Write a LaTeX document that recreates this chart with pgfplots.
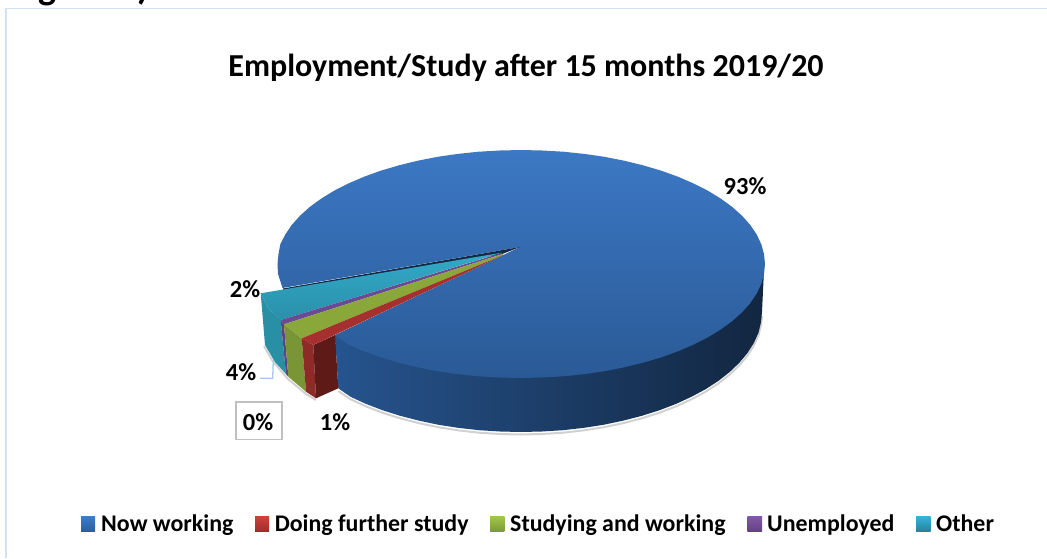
\documentclass[border=0pt]{standalone}
\usepackage{pgfplots}
\pgfplotsset{compat=1.18}
\usepackage{fontspec}
\setmainfont{Carlito}
\definecolor{frameblue}{HTML}{D3E2F3}
\begin{document}
\begin{tikzpicture}
\useasboundingbox (0,0) rectangle (1047pt,558pt);
\clip (0,0) rectangle (1047pt,558pt);
\begin{axis}[at={(0,0)},anchor=south west,scale only axis,width=1047pt,height=558pt,
  xmin=0,xmax=1047,ymin=0,ymax=558,y dir=reverse,hide axis,clip=false]
% frame
\addplot[frameblue,line width=1.6pt] coordinates {(6,558) (6,8.5) (1047,8.5)};
% shadow
\addplot[black!30,line width=2pt,opacity=.6] coordinates {(762,316) (761,325) (758.4,335.5) (753.8,345.6) (747.5,355.5) (739.3,365.3) (729.7,374.5) (718.4,383.4) (705.6,391.7) (691.4,399.3) (676,406.4) (659.3,412.8) (641.5,418.4) (622.9,423.2) (603.4,427.3) (583.4,430.4) (562.9,432.7) (542,434) (521,434.5) (500,434) (479.1,432.7) (458.6,430.4) (438.6,427.3) (419.1,423.2) (400.5,418.4) (382.7,412.8) (366,406.4) (350.6,399.3) (338.3,391)};
\addplot[black!30,line width=2pt,opacity=.6] coordinates {(264,346) (272,360) (282,372) (288,379) (306,394) (316,400)};
% blue side wall
\addplot[draw=none,left color={rgb,255:red,38;green,84;blue,142},middle color={rgb,255:red,26;green,52;blue,88},right color={rgb,255:red,18;green,38;blue,64}] coordinates {(335,335) (764,270) (762,312) (761,322.4) (758.4,332.9) (753.8,343.1) (747.5,353) (739.3,362.8) (729.7,372) (718.4,380.9) (705.6,389.2) (691.4,396.8) (676,403.9) (659.3,410.3) (641.5,415.9) (622.9,420.7) (603.4,424.8) (583.4,427.9) (562.9,430.2) (542,431.5) (521,432) (500,431.5) (479.1,430.2) (458.6,427.9) (438.6,424.8) (419.1,420.7) (400.5,415.9) (382.7,410.3) (366,403.9) (350.6,396.8) (338.3,388.3)} --cycle;
% blue top face
\addplot[draw=none,top color={rgb,255:red,60;green,120;blue,196},bottom color={rgb,255:red,42;green,90;blue,150}] coordinates {(520,247) (282.5,288) (278,273.9) (277.5,264) (278.5,254.1) (280.3,244.2) (285.3,234.5) (291.7,225) (299.9,215.8) (309.7,207) (321.2,198.6) (334.1,190.7) (348.5,183.4) (364.1,176.7) (381,170.6) (399,165.3) (417.8,160.7) (437.6,156.8) (457.8,153.9) (478.6,151.7) (499.8,150.5) (521,150) (542.2,150.5) (563.4,151.7) (584.2,153.9) (604.4,156.8) (624.2,160.7) (643,165.3) (661,170.6) (677.9,176.7) (693.5,183.4) (707.9,190.7) (720.8,198.6) (732.3,207) (742.1,215.8) (750.3,225) (756.7,234.5) (761.3,244.2) (764,254.1) (765,264) (764,273.9) (761.3,283.8) (756.7,293.5) (750.3,303) (742.1,312.2) (732.3,321) (720.8,329.4) (707.9,337.3) (693.5,344.6) (677.9,351.3) (661,357.4) (643,362.7) (624.2,367.3) (604.4,371.2) (584.2,374.1) (563.4,376.3) (542.2,377.5) (521,378) (499.8,377.5) (478.6,376.3) (457.8,374.1) (437.6,371.2) (417.8,367.3) (399,362.7) (381,357.4) (364.1,351.3) (348.5,344.6) (335,335)} --cycle;
% dark sliver of the cut
\addplot[draw=none,fill={rgb,255:red,18;green,42;blue,72}] coordinates {(520,247) (283,288.5) (283,290) (501,254.5)} --cycle;
% walls
\addplot[draw=none,fill={rgb,255:red,40;green,143;blue,165}] coordinates {(260.7,293.3) (268,308) (280.7,320) (286,374) (275,362) (265,345)} --cycle;
\addplot[draw=none,fill={rgb,255:red,92;green,66;blue,135}] coordinates {(280.7,320) (284,324.3) (288.3,376.7) (286,374)} --cycle;
\addplot[draw=none,fill={rgb,255:red,122;green,149;blue,53}] coordinates {(284,324.3) (301.7,338.3) (306,391.7) (288.3,376.7)} --cycle;
\addplot[draw=none,fill={rgb,255:red,142;green,42;blue,40}] coordinates {(301.7,338.3) (313.3,345) (316,398.3) (306,391.7)} --cycle;
\addplot[draw=none,fill={rgb,255:red,94;green,26;blue,23}] coordinates {(313.3,345) (335,335) (338.3,388.3) (316,398.3)} --cycle;
% slice tops
\addplot[draw=none,top color={rgb,255:red,50;green,170;blue,200},bottom color={rgb,255:red,42;green,144;blue,170}] coordinates {(501.7,252.7) (260.7,293.3) (268,308) (280.7,320)} --cycle;
\addplot[draw=none,fill={rgb,255:red,106;green,74;blue,148}] coordinates {(501.7,253) (280.7,320) (284,324.3) (502.5,254)} --cycle;
\addplot[draw=none,fill={rgb,255:red,138;green,168;blue,58}] coordinates {(502.5,254) (284,324.3) (301.7,338.3) (503.3,255)} --cycle;
\addplot[draw=none,fill={rgb,255:red,165;green,48;blue,45}] coordinates {(503.3,255) (301.7,338.3) (313.3,345)} --cycle;
% leader line of 4%
\addplot[color={rgb,255:red,170;green,200;blue,235},line width=1.3pt] coordinates {(273.3,360) (272.7,378.3) (260,378.3)};
% label box of 0%
\addplot[draw={rgb,255:red,192;green,192;blue,192},line width=1.6pt,fill=white] coordinates {(235.7,402) (281.7,402) (281.7,439.3) (235.7,439.3)} --cycle;
% legend keys
\addplot[draw=none,top color={rgb,255:red,61;green,124;blue,201},bottom color={rgb,255:red,42;green,95;blue,158}] coordinates {(81,516.7) (95,516.7) (95,531) (81,531)} --cycle;
\addplot[draw=none,top color={rgb,255:red,208;green,64;blue,60},bottom color={rgb,255:red,160;green,46;blue,43}] coordinates {(255,516.7) (269,516.7) (269,531) (255,531)} --cycle;
\addplot[draw=none,top color={rgb,255:red,160;green,198;blue,74},bottom color={rgb,255:red,125;green,154;blue,53}] coordinates {(490,516.7) (504.3,516.7) (504.3,531) (490,531)} --cycle;
\addplot[draw=none,top color={rgb,255:red,129;green,88;blue,168},bottom color={rgb,255:red,99;green,66;blue,133}] coordinates {(747.3,516.7) (762,516.7) (762,531) (747.3,531)} --cycle;
\addplot[draw=none,top color={rgb,255:red,50;green,180;blue,214},bottom color={rgb,255:red,38;green,131;blue,159}] coordinates {(916,516.7) (930.5,516.7) (930.5,531) (916,531)} --cycle;
% texts
\node[anchor=base west,inner sep=0pt,font=\fontsize{38pt}{38pt}\selectfont\bfseries] at (12,-1) {Figure 1)};
\node[font=\fontsize{32pt}{33pt}\selectfont\bfseries] at (526,68) {Employment/Study after 15 months 2019/20};
\node[font=\fontsize{24.5pt}{25pt}\selectfont\bfseries] at (745,186) {93\%};
\node[font=\fontsize{24.5pt}{25pt}\selectfont\bfseries] at (245,289) {2\%};
\node[font=\fontsize{24.5pt}{25pt}\selectfont\bfseries] at (241,372) {4\%};
\node[font=\fontsize{24.5pt}{25pt}\selectfont\bfseries] at (258,422) {0\%};
\node[font=\fontsize{24.5pt}{25pt}\selectfont\bfseries] at (335,422) {1\%};
\node[anchor=base west,inner sep=0pt,font=\fontsize{23.9pt}{24pt}\selectfont\bfseries] at (101,531) {Now working};
\node[anchor=base west,inner sep=0pt,font=\fontsize{23.9pt}{24pt}\selectfont\bfseries] at (274.6,531) {Doing further study};
\node[anchor=base west,inner sep=0pt,font=\fontsize{23.9pt}{24pt}\selectfont\bfseries] at (510,531) {Studying and working};
\node[anchor=base west,inner sep=0pt,font=\fontsize{23.9pt}{24pt}\selectfont\bfseries] at (767,531) {Unemployed};
\node[anchor=base west,inner sep=0pt,font=\fontsize{23.9pt}{24pt}\selectfont\bfseries] at (936,531) {Other};
\end{axis}
\end{tikzpicture}
\end{document}
